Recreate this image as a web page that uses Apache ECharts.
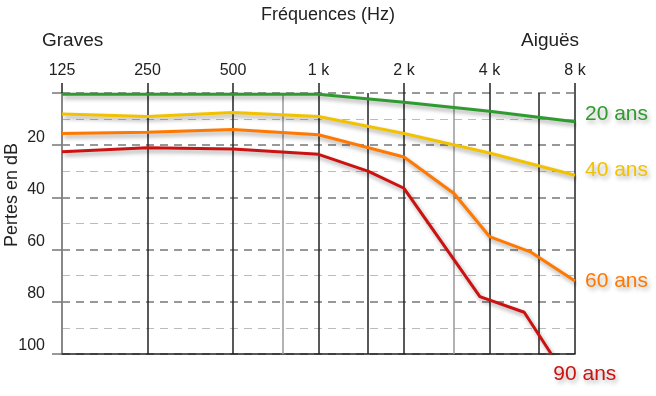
<!DOCTYPE html>
<html>
<head>
<meta charset="utf-8">
<script src="https://cdn.jsdelivr.net/npm/echarts@6/dist/echarts.min.js"></script>
<style>
html, body { margin: 0; padding: 0; background: #fff; }
#main { width: 656px; height: 396px; }
</style>
</head>
<body>
<div id="main"></div>
<script>
// octave ticks on the top axis
var tickFreqs = [125, 250, 500, 1000, 2000, 4000, 8000];
var tickLabels = ['125', '250', '500', '1 k', '2 k', '4 k', '8 k'];
// extra vertical lines between octaves
var darkFreqs = [1500, 6000];
var lightFreqs = [750, 3000];

// hearing loss (dB) per age
var freq20 = [125, 250, 500, 1000, 2000, 4000, 8000];
var loss20 = [0.5, 0.5, 0.5, 0.5, 3.5, 7, 11];
var freq40 = [125, 250, 500, 1000, 2000, 4000, 8000];
var loss40 = [8, 9, 7.5, 9, 15.5, 23, 31.5];
var freq60 = [125, 250, 500, 1000, 2000, 3000, 4000, 5600, 8000];
var loss60 = [15.5, 15, 14, 16, 24.5, 38.5, 55, 61, 72];
var freq90 = [125, 250, 500, 1000, 1500, 2000, 3700, 5300, 6600];
var loss90 = [22.5, 21, 21.5, 23.5, 30, 36.5, 78, 84, 100];

var ages = ['20 ans', '40 ans', '60 ans', '90 ans'];
var colors = ['#2f9a2f', '#f2c200', '#ff7800', '#cc1111'];

function oct(f) { return Math.log2(f / 125); }
function pairs(fs, vs) {
  return fs.map(function (f, i) { return [oct(f), vs[i]]; });
}

var font = '"Liberation Sans", Arial, sans-serif';
var labelOffsets = [[0, -8], [0, -5], [0, 0], [-8, 20]];
var seriesData = [pairs(freq20, loss20), pairs(freq40, loss40), pairs(freq60, loss60), pairs(freq90, loss90)];

var series = seriesData.map(function (d, i) {
  return {
    name: ages[i],
    type: 'line',
    data: d,
    symbol: 'none',
    z: 5,
    lineStyle: {
      width: 3, color: colors[i],
      shadowColor: 'rgba(0,0,0,0.35)', shadowBlur: 4, shadowOffsetX: 2, shadowOffsetY: 3
    },
    endLabel: {
      show: true,
      formatter: ages[i],
      color: colors[i],
      fontFamily: font,
      fontSize: 21,
      distance: 10,
      offset: labelOffsets[i],
      textShadowColor: 'rgba(0,0,0,0.3)',
      textShadowBlur: 4,
      textShadowOffsetX: 2,
      textShadowOffsetY: 3
    }
  };
});

// intermediate vertical lines
series.push({
  type: 'line',
  data: [],
  silent: true,
  markLine: {
    symbol: 'none',
    silent: true,
    label: { show: false },
    data: darkFreqs.map(function (f) {
      return { xAxis: oct(f), lineStyle: { color: '#222', width: 1.5, type: 'solid' } };
    }).concat(lightFreqs.map(function (f) {
      return { xAxis: oct(f), lineStyle: { color: '#999', width: 1.5, type: 'solid' } };
    }))
  }
});

var chart = echarts.init(document.getElementById('main'));
chart.setOption({
  animation: false,
  backgroundColor: '#fff',
  grid: { left: 62, right: 81, top: 93, bottom: 42 },
  xAxis: [{
    type: 'value',
    position: 'top',
    min: 0, max: 6, interval: 1,
    axisLine: { show: false },
    axisTick: { show: true, length: 10, lineStyle: { color: '#222', width: 1.5 } },
    axisLabel: {
      margin: 14, color: '#222', fontFamily: font, fontSize: 16,
      formatter: function (v) { return tickLabels[Math.round(v)]; }
    },
    splitLine: { show: true, lineStyle: { color: '#222', width: 1.5 } }
  }, {
    type: 'value',
    position: 'bottom',
    min: 0, max: 6,
    axisLine: { show: true, onZero: false, lineStyle: { color: '#222', width: 1.5 } },
    axisTick: { show: false },
    axisLabel: { show: false },
    splitLine: { show: false }
  }],
  yAxis: {
    type: 'value',
    inverse: true,
    min: 0, max: 100, interval: 20,
    axisLine: { show: true, lineStyle: { color: '#888', width: 2 } },
    axisTick: { show: true, length: 10, lineStyle: { color: '#777', width: 1.5 } },
    axisLabel: {
      margin: 17, color: '#222', fontFamily: font, fontSize: 16, verticalAlign: 'bottom',
      formatter: function (v) { return v === 0 ? '' : v; }
    },
    splitLine: { show: true, lineStyle: { color: '#777', width: 1.5, type: [8, 6] } },
    minorTick: { show: false, splitNumber: 2 },
    minorSplitLine: { show: true, lineStyle: { color: '#bbb', width: 1.2, type: [8, 6] } }
  },
  graphic: [
    { type: 'text', left: 'center', top: 6, style: { text: 'Fréquences (Hz)', font: '18px ' + font, fill: '#222' } },
    { type: 'text', left: 42, top: 31, style: { text: 'Graves', font: '19px ' + font, fill: '#222' } },
    { type: 'text', left: 521, top: 31, style: { text: 'Aiguës', font: '19px ' + font, fill: '#222' } },
    { type: 'text', x: 3, y: 195, rotation: Math.PI / 2,
      style: { text: 'Pertes en dB', font: '18px ' + font, fill: '#222', align: 'center', verticalAlign: 'top' } }
  ],
  series: series
});
</script>
</body>
</html>
